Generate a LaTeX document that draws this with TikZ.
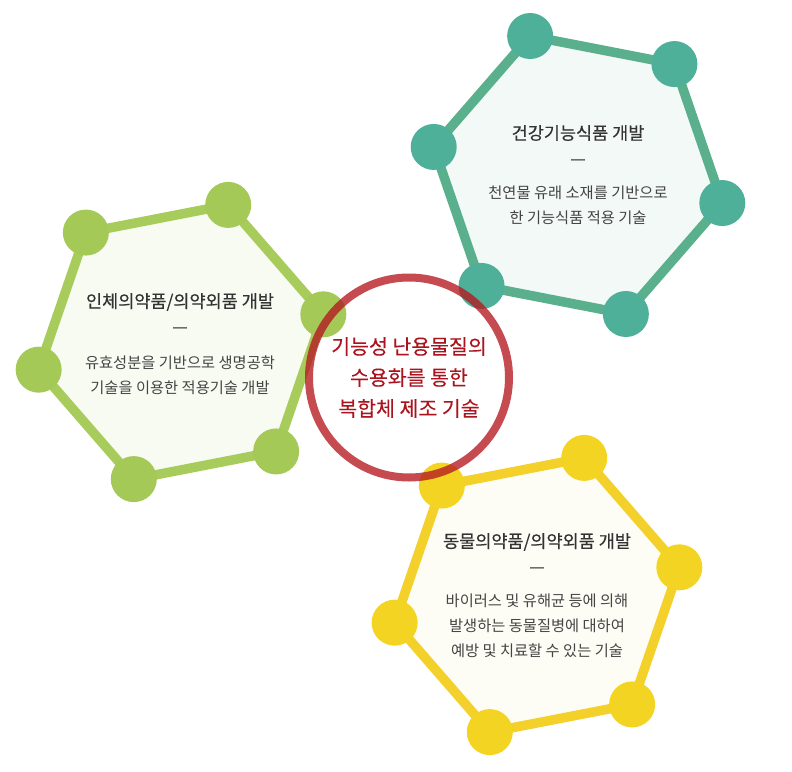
\documentclass[tikz,border=0pt]{standalone}
\usepackage{fontspec}
\setmainfont{Noto Sans CJK KR}
\newfontfamily\heavykr[FakeBold=0.4]{Noto Sans CJK KR}

\definecolor{tealdot}{HTML}{4FB099}
\definecolor{tealline}{HTML}{5AAF8C}
\definecolor{tealfill}{HTML}{F3F9F7}
\definecolor{limedot}{HTML}{A4C957}
\definecolor{limeline}{HTML}{A8CC5C}
\definecolor{limefill}{HTML}{F8FBF2}
\definecolor{golddot}{HTML}{F4D423}
\definecolor{goldline}{HTML}{F3D12A}
\definecolor{goldfill}{HTML}{FDFDF5}
\definecolor{ringred}{HTML}{B51820}
\definecolor{corered}{HTML}{A9141E}
\definecolor{textdark}{HTML}{333333}
\definecolor{textgray}{HTML}{444444}

\tikzset{
  vertex/.style={circle, minimum size=46pt, inner sep=0pt},
  rim/.style={line width=9.5pt, line join=round},
  title/.style={font=\heavykr\fontsize{17.5}{20}\selectfont, text=textdark},
  dashmark/.style={font=\heavykr\fontsize{17}{20}\selectfont, text=textdark},
  body/.style={font=\fontsize{15.3}{25}\selectfont, text=textgray, align=center},
}

\begin{document}
\begin{tikzpicture}[x=1pt, y=-1pt]
  \useasboundingbox (0,0) rectangle (792,771);

  % health food
  \begin{scope}[shift={(578,175)}]
    \foreach \a [count=\i] in {-109,-49,11,71,131,191}
      \coordinate (g\i) at (\a:147);
    \fill[tealfill] (g1) -- (g2) -- (g3) -- (g4) -- (g5) -- (g6) -- cycle;
    \draw[rim, tealline] (g1) -- (g2) -- (g3) -- (g4) -- (g5) -- (g6) -- cycle;
    \foreach \i in {1,...,6}
      \node[vertex, fill=tealdot] (gv\i) at (g\i) {};
    \node[title] (gtitle) at (0,-42) {건강기능식품 개발};
    \node[dashmark] (gdash) at (0,-13) {—};
    \node[body] (gtext) at (0,30.5) {천연물 유래 소재를 기반으로\\한 기능식품 적용 기술};
  \end{scope}

  % human medicine
  \begin{scope}[shift={(181,342)}]
    \foreach \a [count=\i] in {-131,-71,-11,49,109,169}
      \coordinate (l\i) at (\a:145);
    \fill[limefill] (l1) -- (l2) -- (l3) -- (l4) -- (l5) -- (l6) -- cycle;
    \draw[rim, limeline] (l1) -- (l2) -- (l3) -- (l4) -- (l5) -- (l6) -- cycle;
    \foreach \i in {1,...,6}
      \node[vertex, fill=limedot] (lv\i) at (l\i) {};
    \node[title] (ltitle) at (-1,-40) {인체의약품/의약외품 개발};
    \node[dashmark] (ldash) at (-1,-12) {—};
    \node[body] (ltext) at (-1,33.5) {유효성분을 기반으로 생명공학\\기술을 이용한 적용기술 개발};
  \end{scope}

  % animal medicine
  \begin{scope}[shift={(537,595)}]
    \foreach \a [count=\i] in {-131,-71,-11,49,109,169}
      \coordinate (y\i) at (\a:145);
    \fill[goldfill] (y1) -- (y2) -- (y3) -- (y4) -- (y5) -- (y6) -- cycle;
    \draw[rim, goldline] (y1) -- (y2) -- (y3) -- (y4) -- (y5) -- (y6) -- cycle;
    \foreach \i in {1,...,6}
      \node[vertex, fill=golddot] (yv\i) at (y\i) {};
    \node[title] (ytitle) at (0,-53) {동물의약품/의약외품 개발};
    \node[dashmark] (ydash) at (0,-25) {—};
    \node[body] (ytext) at (0,31) {바이러스 및 유해균 등에 의해\\발생하는 동물질병에 대하여\\예방 및 치료할 수 있는 기술};
  \end{scope}

  % core
  \node[circle, draw=ringred, draw opacity=0.78, line width=8pt, minimum size=200pt,
        align=center, text=corered, font=\heavykr\fontsize{20.5}{31}\selectfont]
    (core) at (409,377.5) {기능성 난용물질의\\수용화를 통한\\복합체 제조 기술};
\end{tikzpicture}
\end{document}
